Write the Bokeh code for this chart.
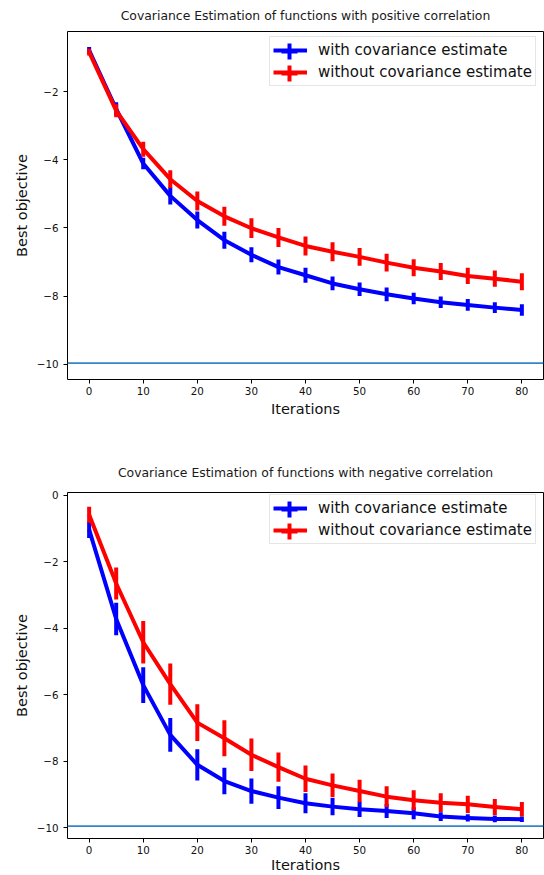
import numpy as np
from bokeh.plotting import figure
from bokeh.layouts import column
from bokeh.models import (Range1d, FixedTicker, CustomJSTickFormatter, Legend,
                          LegendItem, Span)
from bokeh.embed import file_html
from bokeh.resources import INLINE

# ---------------- data ----------------
iterations = [0, 5, 10, 15, 20, 25, 30, 35, 40, 45, 50, 55, 60, 65, 70, 75, 80]

pos_with_mean = [-0.79, -2.51, -4.11, -5.06, -5.77, -6.36, -6.79, -7.15, -7.39,
                 -7.63, -7.80, -7.95, -8.07, -8.18, -8.26, -8.34, -8.41]
pos_with_err = [0.10, 0.20, 0.17, 0.25, 0.25, 0.25, 0.22, 0.22, 0.22,
                0.20, 0.20, 0.20, 0.17, 0.17, 0.17, 0.16, 0.17]
pos_without_mean = [-0.84, -2.56, -3.69, -4.57, -5.21, -5.66, -6.01, -6.28, -6.53,
                    -6.70, -6.85, -7.02, -7.17, -7.28, -7.41, -7.49, -7.58]
pos_without_err = [0.10, 0.19, 0.22, 0.26, 0.28, 0.28, 0.29, 0.28, 0.28,
                   0.28, 0.26, 0.26, 0.25, 0.25, 0.24, 0.24, 0.25]

neg_with_mean = [-1.03, -3.72, -5.71, -7.21, -8.11, -8.60, -8.90, -9.10, -9.27,
                 -9.37, -9.45, -9.50, -9.57, -9.67, -9.71, -9.74, -9.75]
neg_with_err = [0.25, 0.49, 0.54, 0.51, 0.47, 0.40, 0.38, 0.34, 0.30,
                0.26, 0.23, 0.21, 0.18, 0.13, 0.11, 0.10, 0.08]
neg_without_mean = [-0.58, -2.65, -4.42, -5.68, -6.84, -7.31, -7.81, -8.18, -8.53,
                    -8.73, -8.90, -9.07, -9.18, -9.25, -9.30, -9.38, -9.45]
neg_without_err = [0.24, 0.48, 0.64, 0.62, 0.55, 0.54, 0.49, 0.44, 0.40,
                   0.36, 0.34, 0.31, 0.30, 0.28, 0.26, 0.24, 0.22]

optimum_pos = -9.97
optimum_neg = -9.96

x_ticks = [0, 10, 20, 30, 40, 50, 60, 70, 80]
y_ticks_pos = [-10, -8, -6, -4, -2]
y_ticks_neg = [-10, -8, -6, -4, -2, 0]

title_pos = "Covariance Estimation of functions with positive correlation"
title_neg = "Covariance Estimation of functions with negative correlation"
label_with = "with covariance estimate"
label_without = "without covariance estimate"
x_label = "Iterations"
y_label = "Best objective"

FONT = "DejaVu Sans"


def make_panel(title, w_mean, w_err, wo_mean, wo_err, opt, yr, yticks,
               height, b_top, frame_h, b_bottom, title_standoff, title_valign,
               tick_standoff, label_standoff):
    p = figure(width=544, height=height,
               x_range=Range1d(-4, 84), y_range=Range1d(*yr),
               output_backend="svg", toolbar_location=None,
               min_border_left=67, min_border_right=1,
               min_border_top=b_top, min_border_bottom=b_bottom)
    p.background_fill_color = "white"
    p.border_fill_color = "white"
    p.outline_line_color = "black"
    p.outline_line_width = 1
    p.outline_line_alpha = 1
    p.xgrid.visible = False
    p.ygrid.visible = False

    p.title.text = title
    p.title.align = "center"
    p.title.vertical_align = title_valign
    p.title.text_font = FONT
    p.title.text_font_size = "12.4px"
    p.title.text_font_style = "normal"
    p.title.text_color = "#1a1a1a"
    p.title.standoff = title_standoff

    p.xaxis.ticker = FixedTicker(ticks=x_ticks, minor_ticks=[])
    p.yaxis.ticker = FixedTicker(ticks=yticks, minor_ticks=[])
    p.yaxis.formatter = CustomJSTickFormatter(
        code="return (tick < 0 ? '\\u2212' : '') + Math.abs(tick).toString();")
    for ax in (p.xaxis, p.yaxis):
        ax.axis_line_color = None
        ax.major_tick_out = 4
        ax.major_tick_in = 0
        ax.minor_tick_out = 0
        ax.minor_tick_in = 0
        ax.major_tick_line_color = "black"
        ax.major_label_text_font = FONT
        ax.major_label_text_font_size = "10.3px"
        ax.major_label_text_color = "#111111"
        ax.axis_label_text_font = FONT
        ax.axis_label_text_font_size = "14.5px"
        ax.axis_label_text_font_style = "normal"
        ax.axis_label_text_color = "#111111"
    p.xaxis.major_label_standoff = tick_standoff
    p.xaxis.axis_label_standoff = label_standoff
    p.yaxis.major_label_standoff = 5
    p.yaxis.axis_label_standoff = 4
    p.xaxis.axis_label = x_label
    p.yaxis.axis_label = y_label

    x = np.array(iterations, dtype=float)
    lines, marks = [], []
    for mean, err, color in ((w_mean, w_err, "#0000ff"), (wo_mean, wo_err, "#ff0000")):
        m = np.array(mean)
        e = np.array(err)
        ln = p.line(x, m, line_color=color, line_width=4, line_join="round")
        p.segment(x0=x, y0=m - e, x1=x, y1=m + e, line_color=color,
                  line_width=4, line_cap="butt")
        mk = p.scatter(x=[np.nan], y=[np.nan], marker="cross", size=16,
                       line_color=color, line_width=4)
        lines.append(ln)
        marks.append(mk)

    p.add_layout(Span(location=opt, dimension="width", line_color="#3585c8",
                      line_width=1.8))

    # main legend box (line glyph + label)
    leg_left = 202
    leg_h = 48
    legend = Legend(items=[LegendItem(label=label_with, renderers=[lines[0]]),
                           LegendItem(label=label_without, renderers=[lines[1]])],
                    location=(leg_left, frame_h - 7 - leg_h),
                    margin=0, padding=3, spacing=2,
                    glyph_width=34, glyph_height=20, label_standoff=11,
                    label_height=20,
                    label_text_font=FONT, label_text_font_size="15px",
                    label_text_color="#111111",
                    border_line_color="#cccccc", border_line_width=1,
                    background_fill_alpha=0.8)
    p.add_layout(legend)

    # error-bar ticks drawn over the legend lines
    cx = leg_left + 3 + 17
    for i, mk in enumerate(marks):
        cy = frame_h - 7 - 3 - 10 - 22 * i
        tick_leg = Legend(items=[LegendItem(label=" ", renderers=[mk])],
                          location=(cx - 20, cy - 20), margin=0, padding=0,
                          glyph_width=40, glyph_height=40, label_standoff=0,
                          label_width=0, label_text_alpha=0,
                          background_fill_alpha=0, border_line_color=None)
        p.add_layout(tick_leg)
    return p


p1 = make_panel(title_pos, pos_with_mean, pos_with_err, pos_without_mean,
                pos_without_err, optimum_pos, (-10.45, -0.235), y_ticks_pos,
                height=449, b_top=31, frame_h=348, b_bottom=70,
                title_standoff=14, title_valign="top",
                tick_standoff=3, label_standoff=3)
p2 = make_panel(title_neg, neg_with_mean, neg_with_err, neg_without_mean,
                neg_without_err, optimum_neg, (-10.33, 0.09), y_ticks_neg,
                height=426, b_top=42, frame_h=349, b_bottom=35,
                title_standoff=26, title_valign="bottom",
                tick_standoff=3, label_standoff=0)

layout = column(p1, p2, spacing=0)
open("out.html", "w").write(file_html(layout, INLINE))
